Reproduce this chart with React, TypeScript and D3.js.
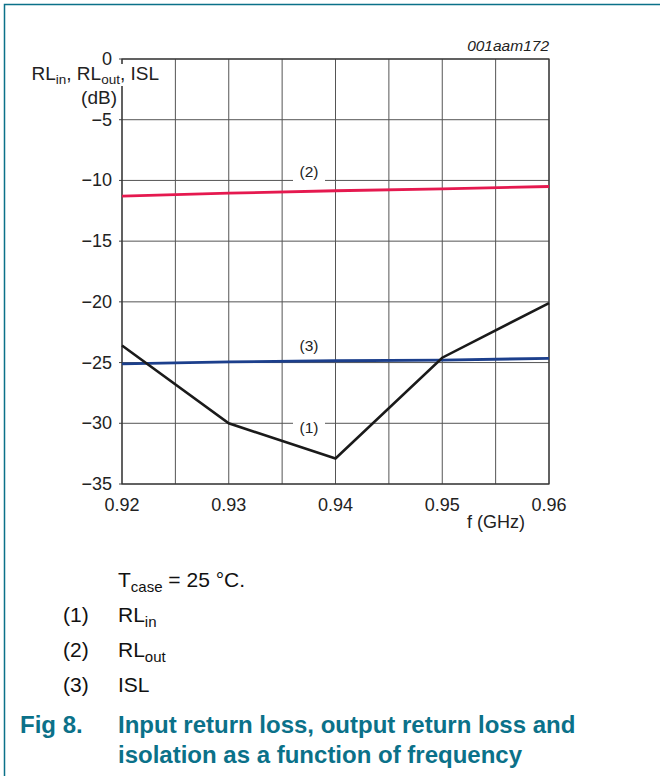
import React, { useEffect, useRef } from "react";
import * as d3 from "d3";

const freqs = [0.92, 0.93, 0.94, 0.95, 0.96];
const rlIn = [-23.6, -30.0, -32.9, -24.6, -20.1];
const rlOut = [-11.3, -11.05, -10.85, -10.7, -10.5];
const isl = [-25.1, -24.95, -24.85, -24.8, -24.65];
const xTicks = [0.92, 0.93, 0.94, 0.95, 0.96];
const xGrid = [0.92, 0.925, 0.93, 0.935, 0.94, 0.945, 0.95, 0.955, 0.96];
const yTicks = [0, -5, -10, -15, -20, -25, -30, -35];

const TEAL = "#0b7189";
const FONT = "'Liberation Sans', Arial, sans-serif";

export default function App() {
  const ref = useRef<SVGSVGElement>(null);
  useEffect(() => {
    const svg = d3.select(ref.current);
    svg.selectAll("*").remove();
    const x = d3.scaleLinear().domain([0.92, 0.96]).range([122, 549]);
    const y = d3.scaleLinear().domain([0, -35]).range([59, 484]);

    // frame border
    svg.append("path").attr("d", "M4.5,776 V4.5 H660").attr("fill", "none").attr("stroke", TEAL).attr("stroke-width", 1.5);

    const g = svg.append("g").attr("font-family", FONT);

    // grid
    g.selectAll("line.vg").data(xGrid).join("line")
      .attr("x1", d => x(d)).attr("x2", d => x(d)).attr("y1", y(0)).attr("y2", y(-35))
      .attr("stroke", "#555").attr("stroke-width", 1);
    g.selectAll("line.hg").data(yTicks).join("line")
      .attr("x1", x(0.92)).attr("x2", x(0.96)).attr("y1", d => y(d)).attr("y2", d => y(d))
      .attr("stroke", "#555").attr("stroke-width", 1);
    // left ticks
    g.selectAll("line.yt").data(yTicks).join("line")
      .attr("x1", x(0.92) - 3).attr("x2", x(0.92)).attr("y1", d => y(d)).attr("y2", d => y(d))
      .attr("stroke", "#444");
    // frame
    g.append("rect").attr("x", x(0.92)).attr("y", y(0)).attr("width", x(0.96) - x(0.92)).attr("height", y(-35) - y(0))
      .attr("fill", "none").attr("stroke", "#333").attr("stroke-width", 1.2);

    // label backgrounds (break gridlines)
    const labels = [
      { t: "(2)", v: -10, dy: -3, gap: true },
      { t: "(3)", v: -25, dy: -12, gap: false },
      { t: "(1)", v: -30, dy: 10, gap: true },
    ];
    labels.forEach(l => {
      if (l.gap) {
        g.append("rect").attr("x", 293).attr("y", y(l.v) - 1.5).attr("width", 32).attr("height", 3).attr("fill", "#fff");
      }
      g.append("text").attr("x", 309).attr("y", y(l.v) + l.dy).attr("text-anchor", "middle")
        .attr("font-size", 15.5).attr("fill", "#222").text(l.t);
    });

    const line = d3.line<number>().x((_, i) => x(freqs[i])).y(d => y(d));
    const series = [
      { d: rlOut, c: "#e5194f", w: 2.8 },
      { d: isl, c: "#1c3f8c", w: 2.8 },
      { d: rlIn, c: "#1a1a1a", w: 2.6 },
    ];
    series.forEach(s => {
      g.append("path").attr("d", line(s.d)).attr("fill", "none").attr("stroke", s.c)
        .attr("stroke-width", s.w).attr("stroke-linejoin", "miter");
    });

    // y tick labels
    g.selectAll("text.yl").data(yTicks).join("text")
      .attr("x", 112).attr("y", d => y(d) + 6).attr("text-anchor", "end")
      .attr("font-size", 18).attr("fill", "#222").text(d => d === 0 ? "0" : "\u2212" + Math.abs(d));
    // x tick labels
    g.selectAll("text.xl").data(xTicks).join("text")
      .attr("x", d => x(d)).attr("y", 511).attr("text-anchor", "middle")
      .attr("font-size", 18).attr("fill", "#222").text(d => d.toFixed(2));
    g.append("text").attr("x", 525).attr("y", 528).attr("text-anchor", "end").attr("font-size", 18).attr("fill", "#222").text("f (GHz)");

    // y title (covers the axis line)
    g.append("rect").attr("x", 119).attr("y", 64).attr("width", 42).attr("height", 22).attr("fill", "#fff");
    const yt = g.append("text").attr("x", 159).attr("y", 80).attr("text-anchor", "end").attr("font-size", 19).attr("fill", "#222");
    yt.append("tspan").text("RL");
    yt.append("tspan").attr("font-size", 13.5).attr("dy", 3.5).text("in");
    yt.append("tspan").attr("dy", -3.5).text(", RL");
    yt.append("tspan").attr("font-size", 13.5).attr("dy", 3.5).text("out");
    yt.append("tspan").attr("dy", -3.5).text(", ISL");
    g.append("text").attr("x", 117).attr("y", 104).attr("text-anchor", "end").attr("font-size", 19).attr("fill", "#222").text("(dB)");

    g.append("text").attr("x", 549).attr("y", 51).attr("text-anchor", "end").attr("font-size", 15.5)
      .attr("font-style", "italic").attr("fill", "#222").text("001aam172");

    // footnotes
    const ft = g.append("text").attr("x", 118).attr("y", 587).attr("font-size", 21).attr("fill", "#111");
    ft.append("tspan").text("T");
    ft.append("tspan").attr("font-size", 15).attr("dy", 5).text("case");
    ft.append("tspan").attr("dy", -5).text(" = 25 \u00b0C.");

    const legend = [
      { n: "(1)", a: "RL", s: "in" },
      { n: "(2)", a: "RL", s: "out" },
      { n: "(3)", a: "ISL", s: "" },
    ];
    legend.forEach((l, i) => {
      const yy = 622 + i * 35;
      g.append("text").attr("x", 63).attr("y", yy).attr("font-size", 21).attr("fill", "#111").text(l.n);
      const t = g.append("text").attr("x", 118).attr("y", yy).attr("font-size", 21).attr("fill", "#111");
      t.append("tspan").text(l.a);
      if (l.s) t.append("tspan").attr("font-size", 15).attr("dy", 5).text(l.s);
    });

    g.append("text").attr("x", 20).attr("y", 733).attr("font-size", 24).attr("font-weight", "bold").attr("fill", TEAL).text("Fig 8.");
    g.append("text").attr("x", 118).attr("y", 733).attr("font-size", 24).attr("font-weight", "bold").attr("fill", TEAL).text("Input return loss, output return loss and");
    g.append("text").attr("x", 118).attr("y", 763).attr("font-size", 24).attr("font-weight", "bold").attr("fill", TEAL).text("isolation as a function of frequency");
  }, []);
  return (
    <svg ref={ref} width={660} height={776}
      style={{ position: "absolute", left: 0, top: 0, background: "#fff" }} />
  );
}
